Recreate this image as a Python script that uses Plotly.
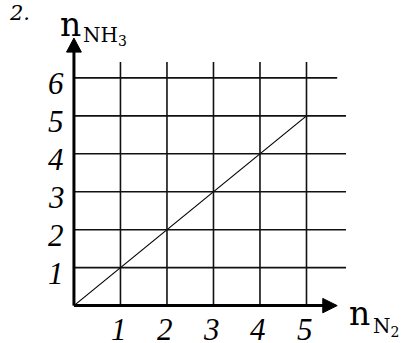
import plotly.graph_objects as go

# data
x_ticks = [1, 2, 3, 4, 5]
y_ticks = [1, 2, 3, 4, 5, 6]
n_n2 = [0, 5]
n_nh3 = [0, 5]

x_range = [-0.3, 6]
y_range = [-0.3, 7.5]

# grid extents (in axis units)
grid_top = 6.42
grid_right = 5.85
grid_right_top = 5.66


def px(x):
    return (x - x_range[0]) / (x_range[1] - x_range[0])


def py(y):
    return (y - y_range[0]) / (y_range[1] - y_range[0])


fig = go.Figure()
fig.add_trace(go.Scatter(x=n_n2, y=n_nh3, mode="lines",
                         line=dict(color="black", width=1.2),
                         hoverinfo="skip", showlegend=False))

shapes = []
for xv in x_ticks:
    shapes.append(dict(type="line", x0=xv, x1=xv, y0=0, y1=grid_top,
                       line=dict(color="#111", width=1.6)))
for yv in y_ticks:
    right = grid_right_top if yv == max(y_ticks) else grid_right
    shapes.append(dict(type="line", x0=0, x1=right, y0=yv, y1=yv,
                       line=dict(color="#111", width=1.6)))

# axes with arrows
shapes.append(dict(type="line", x0=0, x1=5.4, y0=0, y1=0,
                   line=dict(color="black", width=3)))
shapes.append(dict(type="line", x0=0, x1=0, y0=0, y1=6.72,
                   line=dict(color="black", width=3)))
shapes.append(dict(type="path", path="M 5.35 -0.19 L 5.66 0 L 5.35 0.19 Z",
                   fillcolor="black", line=dict(color="black", width=1)))
shapes.append(dict(type="path", path="M -0.16 6.68 L 0 7.05 L 0.16 6.68 Z",
                   fillcolor="black", line=dict(color="black", width=1)))

annotations = []
tick_font = dict(family="Liberation Serif", size=31, color="black")
for yv in y_ticks:
    annotations.append(dict(x=px(-0.38), y=py(yv - 0.16), text="<i>%d</i>" % yv))
for xv in x_ticks:
    annotations.append(dict(x=px(xv - 0.04), y=py(-0.64), text="<i>%d</i>" % xv))
for a in annotations:
    a.update(font=tick_font)

title_font = dict(family="DejaVu Serif", size=33, color="black")
sub_font = dict(family="DejaVu Serif", size=20, color="black")
annotations += [
    dict(x=px(-0.08), y=py(7.42), text="n", font=title_font),
    dict(x=px(0.67), y=py(7.1), text="NH<sub>3</sub>", font=sub_font),
    dict(x=px(6.15), y=py(-0.2), text="n", font=title_font),
    dict(x=px(6.72), y=py(-0.56), text="N<sub>2</sub>", font=sub_font),
    dict(x=px(-1.17), y=py(7.72), text="<i>2.</i>",
         font=dict(family="DejaVu Serif", size=21, color="black")),
]
for a in annotations:
    a.update(xref="paper", yref="paper", showarrow=False, borderpad=0,
             xanchor="center", yanchor="middle")

fig.update_layout(
    width=401, height=343,
    margin=dict(l=60, r=48, t=21, b=26),
    paper_bgcolor="white", plot_bgcolor="white",
    xaxis=dict(range=x_range, visible=False, fixedrange=True),
    yaxis=dict(range=y_range, visible=False, fixedrange=True),
    shapes=shapes, annotations=annotations,
)

fig.write_html("out.html", config={"displayModeBar": False},
               post_script="document.body.style.margin='0';")
